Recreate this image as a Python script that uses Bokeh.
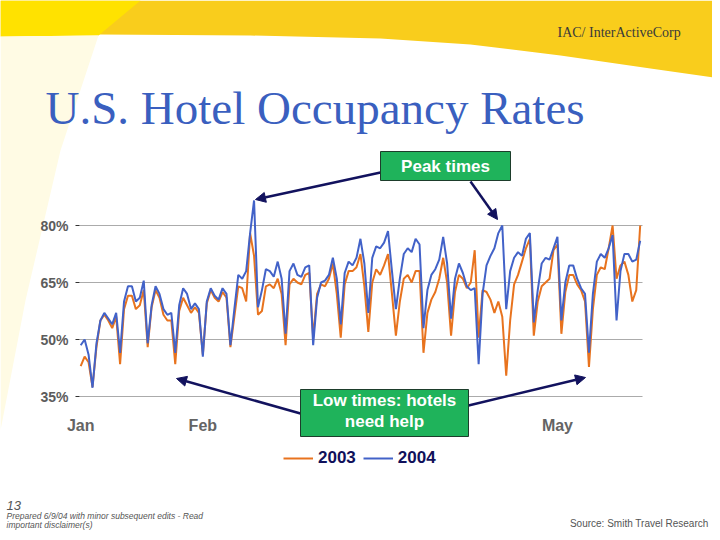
from bokeh.plotting import figure
from bokeh.models import (Range1d, FixedTicker, Label, Arrow, NormalHead, BoxAnnotation,
                          PolyAnnotation, Legend, LegendItem, LinearAxis)
from bokeh.embed import file_html
from bokeh.resources import INLINE

# ---------------- data (daily occupancy %, Jan 1 .. ~May 21, aligned by weekday) -------------
occ_2003 = [43, 45.5, 44, 37.5, 48, 55, 56.5, 55, 53, 56, 43.5,
            58, 61.5, 61.5, 58, 59, 63, 48,
            58.5, 63, 61, 56.5, 55, 55, 43.5,
            57.5, 61, 59, 57, 58.5, 57, 46,
            59.5, 63, 61, 60, 62.5, 61, 48,
            56, 64, 63.5, 60, 78, 72, 56.5,
            57.5, 64, 64.5, 63.5, 66, 62, 48.5,
            64.5, 66, 65, 64.5, 67, 67.5, 50.5,
            62, 64.5, 64, 66, 70, 62, 50.5,
            64.5, 68, 68, 69, 72.5, 64, 52,
            65, 68.5, 67, 69.5, 72.5, 62, 51,
            60, 66, 67, 65, 68, 68, 46.5,
            57, 60.5, 62.5, 66, 71.5, 65, 51,
            62.5, 67, 66, 63.5, 65, 73.5, 50.5,
            63, 62.5, 60.5, 57, 60, 56, 40.5,
            55, 64.5, 67, 70.5, 74, 76.5, 51,
            60, 64, 65, 66, 73.5, 75, 51.5,
            62.5, 67, 67, 64.5, 63, 60, 42.8,
            58, 67, 69, 68.5, 74, 80, 66,
            69.5, 70.5, 67, 60, 63, 80]
occ_2004 = [48.5, 50, 46, 37.3, 49, 55, 57, 55.5, 54, 57, 46.5,
            60, 64, 64, 60, 61, 65.5, 49,
            59, 64, 62, 58, 56.5, 57, 46.5,
            59, 63.5, 62, 58, 59.5, 58, 45.5,
            60, 63.5, 61.5, 60.5, 63.5, 62, 48.5,
            58, 67, 66, 68, 78, 86.6, 58.5,
            63, 68.5, 68, 66.5, 70.5, 66, 51.5,
            68, 70, 67, 66.5, 69, 69.5, 48.5,
            61, 65, 65.5, 67, 71.5, 66, 54,
            67.5, 70.5, 69.5, 71.5, 76.5, 70, 57,
            71.5, 74.5, 74, 75.5, 78.5, 68, 58,
            66, 72.5, 74, 73, 76.5, 75, 53,
            63, 67, 68.5, 71, 77, 70, 55.5,
            66, 70, 67.5, 64, 63, 63.5, 43.5,
            62, 69.5, 72, 74, 78, 80, 58,
            68, 71.5, 73, 72, 76.5, 78, 54.5,
            63, 70, 71.5, 71, 74, 77, 55,
            65, 69.5, 69.5, 66, 63.5, 62, 46.5,
            62, 70.5, 72.5, 71.5, 74, 77.5, 55,
            68, 72.5, 72.5, 70.5, 71, 76]
days = list(range(len(occ_2004)))

month_ticks = [0, 31, 121]
month_labels = ["Jan", "Feb", "May"]
pct_ticks = [35, 50, 65, 80]
pct_labels = ["35%", "50%", "65%", "80%"]
series_names = ["2003", "2004"]

# ---------------- layout helpers (canvas pixel -> data) ----------------
W, H = 712, 532


def dx(X):
    return (X - 80.2) / 3.94


def dy(Y):
    return 35 + (396 - Y) / 3.8


CL, CR, CB = 79, 642, 398   # chart area edges (canvas px)

p = figure(width=W, height=H, output_backend="svg", toolbar_location=None,
           x_range=Range1d(dx(0), dx(W)), y_range=Range1d(dy(H), dy(0)),
           x_axis_location=None, y_axis_location=None,
           min_border=0, min_border_left=0, min_border_right=0,
           min_border_top=0, min_border_bottom=0)
p.outline_line_color = None
p.background_fill_color = "white"
p.border_fill_color = "white"
p.xgrid.visible = False
p.ygrid.visible = False

# background swoosh
p.add_layout(PolyAnnotation(xs=[dx(v) for v in [0, 720, 720, 650, 560, 470, 380, 250, 100, 0]],
                            ys=[dy(v) for v in [0, 0, 78, 68, 55, 44, 38, 35, 34, 36]],
                            fill_color="#f9cd1c", fill_alpha=1, line_alpha=0, level="underlay"))
p.add_layout(PolyAnnotation(xs=[dx(v) for v in [0, 140, 98, 0]],
                            ys=[dy(v) for v in [0, 0, 35, 36]],
                            fill_color="#ffe200", fill_alpha=1, line_alpha=0, level="underlay"))
p.add_layout(PolyAnnotation(xs=[dx(v) for v in [0, 98, 60, 25, 0]],
                            ys=[dy(v) for v in [36, 35, 150, 300, 430]],
                            fill_color="#fffbe4", fill_alpha=1, line_alpha=0, level="underlay"))

# axes placed at the chart edges
xaxis = LinearAxis(fixed_location=dy(CB), ticker=FixedTicker(ticks=month_ticks),
                   major_label_overrides=dict(zip(month_ticks, month_labels)))
xaxis.axis_line_color = None
xaxis.major_tick_line_color = None
xaxis.minor_tick_line_color = None
xaxis.major_label_standoff = 12
xaxis.major_label_text_font = "Liberation Sans"
xaxis.major_label_text_font_size = "16px"
xaxis.major_label_text_font_style = "bold"
xaxis.major_label_text_color = "#646464"
p.add_layout(xaxis, "below")

yaxis = LinearAxis(fixed_location=dx(CL), ticker=FixedTicker(ticks=pct_ticks),
                   major_label_overrides=dict(zip(pct_ticks, pct_labels)))
yaxis.axis_line_color = None
yaxis.major_tick_line_color = "#333333"
yaxis.major_tick_out = 4
yaxis.major_tick_in = 0
yaxis.minor_tick_line_color = None
yaxis.major_label_standoff = 7
yaxis.major_label_text_font = "Liberation Sans"
yaxis.major_label_text_font_size = "14px"
yaxis.major_label_text_font_style = "bold"
yaxis.major_label_text_color = "#5c5c5c"
p.add_layout(yaxis, "left")

# horizontal gridlines spanning the chart area only
p.segment(x0=[dx(CL)] * len(pct_ticks), x1=[dx(CR)] * len(pct_ticks),
          y0=pct_ticks, y1=pct_ticks, line_color="#ababab", line_width=1)

r03 = p.line(days, occ_2003, line_color="#e8731e", line_width=2)
r04 = p.line(days, occ_2004, line_color="#4262c8", line_width=2)

legend = Legend(items=[LegendItem(label=series_names[0], renderers=[r03]),
                       LegendItem(label=series_names[1], renderers=[r04])],
                orientation="horizontal", location=(283, H - 468),
                padding=0, margin=0, spacing=7, label_standoff=5,
                glyph_width=30, glyph_height=20, label_height=20,
                border_line_color=None, background_fill_alpha=0,
                label_text_font="Liberation Sans", label_text_font_size="17px",
                label_text_font_style="bold", label_text_color="#10105a")
p.add_layout(legend, "center")

navy = "#12125e"
for (x0, y0, x1, y1) in [(380, 172, 255, 199), (470, 181, 497, 219),
                         (300, 413, 176, 378), (468, 405, 585, 377)]:
    p.add_layout(Arrow(end=NormalHead(size=10, fill_color=navy, line_color=navy),
                       x_start=dx(x0), y_start=dy(y0), x_end=dx(x1), y_end=dy(y1),
                       line_color=navy, line_width=2.5))

# green callout boxes
green = "#1fb35b"
p.add_layout(BoxAnnotation(left=dx(380), right=dx(510), top=dy(151), bottom=dy(180),
                           fill_color=green, fill_alpha=1, line_color="#1d3d2b",
                           line_alpha=1, line_width=1))
p.add_layout(BoxAnnotation(left=dx(300), right=dx(468), top=dy(389), bottom=dy(436),
                           fill_color=green, fill_alpha=1, line_color="#1d3d2b",
                           line_alpha=1, line_width=1))
p.add_layout(Label(x=dx(445), y=dy(166), text="Peak times", text_align="center",
                   text_baseline="middle", text_color="white", text_font="Liberation Sans",
                   text_font_size="17px", text_font_style="bold"))
p.add_layout(Label(x=dx(384), y=dy(400), text="Low times: hotels", text_align="center",
                   text_baseline="middle", text_color="white", text_font="Liberation Sans",
                   text_font_size="17px", text_font_style="bold"))
p.add_layout(Label(x=dx(384), y=dy(421), text="need help", text_align="center",
                   text_baseline="middle", text_color="white", text_font="Liberation Sans",
                   text_font_size="17px", text_font_style="bold"))

# title and decorations
p.add_layout(Label(x=dx(45), y=dy(107), text="U.S. Hotel Occupancy Rates",
                   text_font="Liberation Serif", text_font_size="47px",
                   text_color="#3a5fbf", text_baseline="alphabetic"))
p.add_layout(Label(x=dx(557), y=dy(32), text="IAC/ InterActiveCorp",
                   text_font="Liberation Serif", text_font_size="14px",
                   text_color="#3a3a3a", text_baseline="alphabetic"))
p.add_layout(Label(x=dx(6), y=dy(505), text="13", text_font="Liberation Sans",
                   text_font_size="13px", text_font_style="italic",
                   text_color="#555555", text_baseline="alphabetic"))
p.add_layout(Label(x=dx(6), y=dy(515), text="Prepared 6/9/04 with minor subsequent edits - Read",
                   text_font="Liberation Sans", text_font_size="8.5px", text_font_style="italic",
                   text_color="#555555", text_baseline="alphabetic"))
p.add_layout(Label(x=dx(6), y=dy(524), text="important disclaimer(s)",
                   text_font="Liberation Sans", text_font_size="8.5px", text_font_style="italic",
                   text_color="#555555", text_baseline="alphabetic"))
p.add_layout(Label(x=dx(708), y=dy(523), text="Source: Smith Travel Research",
                   text_font="Liberation Sans", text_font_size="10px", text_align="right",
                   text_color="#555555", text_baseline="alphabetic"))

open("out.html", "w").write(file_html(p, INLINE))
